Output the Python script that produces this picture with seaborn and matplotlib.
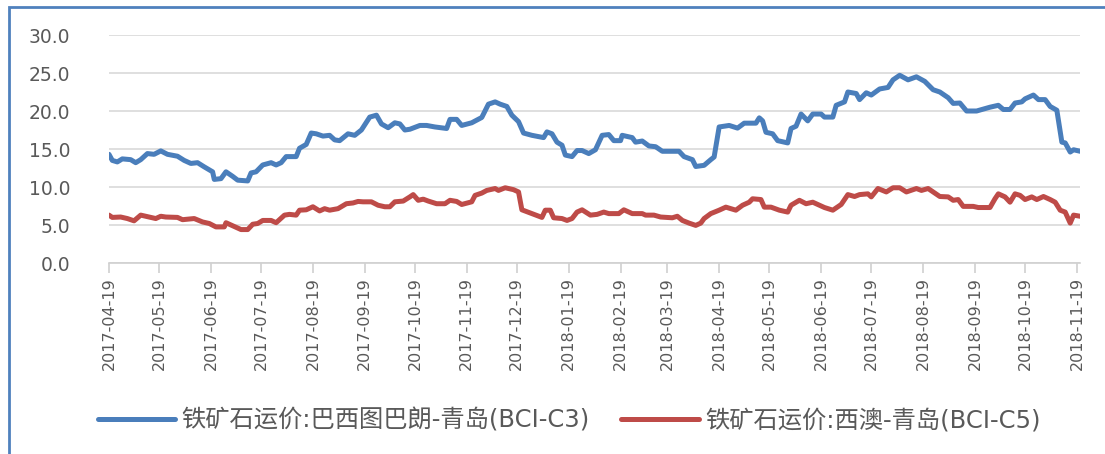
import pandas as pd
import matplotlib
matplotlib.use('Agg')
import matplotlib.pyplot as plt
import matplotlib.dates as mdates
from matplotlib.patches import Rectangle
import seaborn as sns

# 数据：距 2017-04-19 的天数 + 运价 (美元/吨)
start_date = '2017-04-19'
c3_days = [0, 2, 5, 8, 13, 16, 19, 23, 27, 31, 35, 41, 45, 49, 53, 57, 62, 63, 67, 70,
           74, 77, 83, 85, 88, 92, 97, 100, 103, 106, 112, 114, 118, 121, 124, 128, 132, 135, 138, 143,
           147, 151, 156, 160, 163, 167, 171, 174, 177, 180, 186, 190, 195, 202, 204, 208, 211, 217, 223, 227,
           231, 234, 238, 241, 245, 248, 253, 260, 262, 265, 268, 271, 273, 277, 280, 283, 287, 291, 295, 299,
           302, 306, 307, 313, 315, 319, 323, 327, 331, 341, 344, 349, 351, 356, 360, 362, 365, 371, 376, 380,
           387, 389, 391, 393, 397, 400, 406, 408, 411, 414, 418, 421, 426, 428, 433, 435, 440, 442, 447, 449,
           453, 456, 461, 466, 469, 473, 478, 483, 488, 493, 497, 502, 505, 509, 513, 519, 527, 532, 535, 539,
           542, 546, 548, 553, 556, 560, 563, 567, 570, 572, 575, 577, 581]
c3_values = [14.3, 13.5, 13.3, 13.7, 13.6, 13.2, 13.6, 14.4, 14.3, 14.75, 14.3, 14.05, 13.5, 13.1, 13.2, 12.65, 12.0, 11.0, 11.1, 12.0,
             11.4, 10.9, 10.8, 11.85, 12.0, 12.9, 13.2, 12.9, 13.2, 14.0, 14.0, 15.1, 15.6, 17.1, 17.0, 16.7, 16.8, 16.2, 16.1, 17.0,
             16.8, 17.5, 19.2, 19.45, 18.3, 17.8, 18.45, 18.3, 17.5, 17.6, 18.1, 18.1, 17.9, 17.7, 18.9, 18.9, 18.1, 18.45, 19.15, 20.9,
             21.2, 20.9, 20.6, 19.45, 18.6, 17.1, 16.8, 16.5, 17.25, 17.0, 15.9, 15.5, 14.2, 14.0, 14.8, 14.8, 14.4, 14.9, 16.8, 16.9,
             16.1, 16.1, 16.8, 16.5, 15.9, 16.05, 15.4, 15.3, 14.7, 14.7, 14.0, 13.6, 12.7, 12.85, 13.6, 13.95, 17.9, 18.1, 17.75, 18.4,
             18.4, 19.1, 18.7, 17.2, 17.0, 16.1, 15.8, 17.7, 18.0, 19.6, 18.7, 19.6, 19.6, 19.2, 19.2, 20.75, 21.2, 22.5, 22.3, 21.5,
             22.4, 22.1, 22.9, 23.1, 24.1, 24.7, 24.1, 24.5, 23.9, 22.8, 22.5, 21.75, 21.0, 21.05, 20.0, 20.0, 20.5, 20.75, 20.2, 20.2,
             21.05, 21.2, 21.6, 22.1, 21.5, 21.5, 20.6, 20.1, 15.9, 15.8, 14.6, 14.9, 14.7]

c5_days = [0, 2, 7, 11, 15, 19, 24, 28, 31, 34, 41, 44, 51, 56, 60, 64, 69, 70, 75, 79,
           83, 86, 89, 92, 97, 100, 105, 108, 112, 114, 118, 122, 126, 129, 132, 137, 142, 146, 149, 152,
           157, 161, 165, 168, 171, 176, 180, 182, 185, 188, 191, 196, 201, 204, 208, 211, 217, 219, 223, 226,
           231, 233, 237, 242, 245, 247, 253, 259, 261, 264, 266, 271, 274, 277, 280, 283, 288, 292, 296, 299,
           305, 308, 313, 319, 321, 326, 330, 337, 340, 343, 347, 351, 354, 356, 360, 365, 369, 375, 379, 383,
           385, 390, 392, 396, 401, 406, 408, 413, 417, 421, 424, 428, 433, 438, 442, 446, 449, 454, 456, 460,
           465, 469, 473, 477, 483, 486, 490, 493, 497, 502, 505, 508, 511, 517, 520, 527, 530, 532, 536, 539,
           542, 545, 548, 552, 555, 559, 563, 566, 569, 572, 575, 577, 581]
c5_values = [6.3, 6.0, 6.05, 5.85, 5.55, 6.3, 6.05, 5.85, 6.15, 6.05, 6.0, 5.7, 5.85, 5.4, 5.2, 4.75, 4.75, 5.3, 4.8, 4.4,
             4.4, 5.1, 5.2, 5.6, 5.6, 5.3, 6.3, 6.4, 6.3, 6.95, 7.0, 7.4, 6.85, 7.15, 6.95, 7.15, 7.8, 7.9, 8.1, 8.05,
             8.05, 7.6, 7.4, 7.4, 8.05, 8.15, 8.7, 9.0, 8.25, 8.4, 8.15, 7.8, 7.8, 8.25, 8.1, 7.7, 8.05, 8.9, 9.2, 9.55,
             9.8, 9.55, 9.9, 9.65, 9.35, 7.0, 6.5, 6.0, 6.95, 6.95, 5.95, 5.85, 5.6, 5.85, 6.7, 7.0, 6.3, 6.4, 6.7, 6.5,
             6.5, 7.0, 6.5, 6.5, 6.3, 6.3, 6.05, 5.95, 6.15, 5.6, 5.25, 4.95, 5.25, 5.85, 6.5, 6.95, 7.35, 6.95, 7.6, 8.0,
             8.45, 8.35, 7.35, 7.35, 6.95, 6.7, 7.6, 8.25, 7.8, 8.0, 7.7, 7.3, 6.95, 7.7, 9.0, 8.75, 9.0, 9.1, 8.7, 9.8,
             9.35, 9.9, 9.9, 9.35, 9.8, 9.55, 9.8, 9.35, 8.75, 8.7, 8.25, 8.35, 7.45, 7.45, 7.3, 7.3, 8.45, 9.1, 8.7, 8.0,
             9.1, 8.9, 8.35, 8.7, 8.35, 8.75, 8.35, 8.0, 6.95, 6.7, 5.25, 6.3, 6.15]

c3_name = '铁矿石运价:巴西图巴朗-青岛(BCI-C3)'
c5_name = '铁矿石运价:西澳-青岛(BCI-C5)'
y_ticks = [0, 5, 10, 15, 20, 25, 30]

t0 = pd.Timestamp(start_date)
df = pd.concat([
    pd.DataFrame({'date': t0 + pd.to_timedelta(c3_days, unit='D'), 'value': c3_values, 'series': c3_name}),
    pd.DataFrame({'date': t0 + pd.to_timedelta(c5_days, unit='D'), 'value': c5_values, 'series': c5_name}),
])

sns.set_theme(style='white')
plt.rcParams['font.family'] = ['DejaVu Sans', 'Noto Sans CJK SC']

fig = plt.figure(figsize=(11.05, 4.54), dpi=100)
ax = fig.add_axes([0.0986, 0.4207, 0.879, 0.5022])

sns.lineplot(data=df, x='date', y='value', hue='series', ax=ax,
             palette={c3_name: '#4A7EBB', c5_name: '#BE4B48'},
             linewidth=3.6, legend=False)

month_ticks = [t0 + pd.DateOffset(months=i) for i in range(20)]
ax.set_xticks(month_ticks)
ax.xaxis.set_major_formatter(mdates.DateFormatter('%Y-%m-%d'))
ax.set_xlim(t0, pd.Timestamp('2018-11-21'))
ax.set_ylim(0, 30)
ax.set_yticks(y_ticks)
ax.set_yticklabels(['%.1f' % v for v in y_ticks])
ax.set_xlabel('')
ax.set_ylabel('')

ax.grid(axis='y', color='#D9D9D9', linewidth=1.2)
ax.set_axisbelow(True)
for s in ['top', 'right', 'left']:
    ax.spines[s].set_visible(False)
ax.spines['bottom'].set_color('#D0D0D0')
ax.spines['bottom'].set_linewidth(1.2)

ax.tick_params(axis='x', which='major', bottom=True, length=7, width=1.2, color='#D0D0D0',
               labelrotation=90, labelsize=11.5, labelcolor='#595959', pad=3)
ax.tick_params(axis='y', left=False, labelsize=13.5, labelcolor='#595959', pad=22)

handles = [plt.Line2D([], [], color='#4A7EBB', linewidth=3.6),
           plt.Line2D([], [], color='#BE4B48', linewidth=3.6)]
fig.legend(handles, [c3_name, c5_name], loc='center', bbox_to_anchor=(0.515, 0.073),
           ncol=2, frameon=False, fontsize=17.5, handlelength=3.2, handletextpad=0.25,
           columnspacing=1.3, labelcolor='#595959')

# 外框 (只露出左边和上边)
fig.patches.append(Rectangle((9 / 1105, -0.1), 1.2, 1.1 - 7 / 454, transform=fig.transFigure,
                             fill=False, edgecolor='#4F81BD', linewidth=2, clip_on=False))

fig.savefig('out.png', dpi=100)
